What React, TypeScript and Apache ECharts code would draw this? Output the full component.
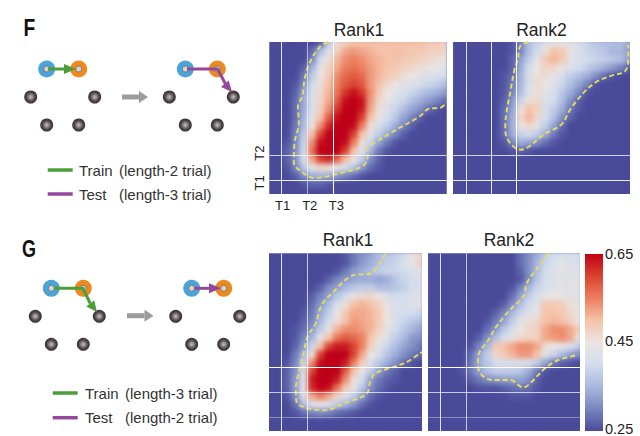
import React, { useEffect, useRef } from "react";
import * as echarts from "echarts";

// Values are percent-of-score (25 = 0.25, 65 = 0.65); rows run from top to bottom.
const fRank1 = [
  [25,25,25,25,25,25,27,38,46,48,50,50,50,50,50,50,50,50,50,49,49,48],
  [25,25,25,25,25,28,36,42,48,52,53,52,51,50,50,50,50,49,49,48,48,47],
  [25,25,25,25,25,30,40,46,51,54,55,54,52,51,50,50,49,49,48,47,46,45],
  [25,25,25,25,27,35,43,48,52,55,56,55,53,51,50,49,48,47,46,45,44,43],
  [25,25,25,25,29,38,45,49,54,57,58,57,53,51,49,48,46,45,43,42,41,40],
  [25,25,25,26,31,40,46,50,55,58,60,58,53,50,47,45,43,42,41,39,38,36],
  [25,25,25,27,33,41,47,51,56,61,64,61,54,49,45,43,41,39,37,35,34,32],
  [25,25,25,28,34,42,47,52,58,64,65,64,53,47,44,41,39,36,34,32,30,28],
  [25,25,25,28,34,42,48,54,61,65,65,63,52,46,42,39,36,33,31,28,26,25],
  [25,25,25,28,35,43,50,58,64,65,65,60,50,44,40,37,33,30,27,25,25,25],
  [25,25,25,29,36,45,54,62,65,65,64,55,46,41,38,34,30,27,25,25,25,25],
  [25,25,25,30,38,50,60,65,65,65,60,50,43,38,34,30,27,25,25,25,25,25],
  [25,25,26,30,39,54,64,65,65,64,55,46,39,33,29,26,25,25,25,25,25,25],
  [25,25,27,31,40,56,65,65,65,60,50,42,35,29,26,25,25,25,25,25,25,25],
  [25,25,27,31,41,52,60,62,57,50,45,38,31,27,25,25,25,25,25,25,25,25],
  [25,25,26,30,37,44,47,46,44,41,37,32,28,26,25,25,25,25,25,25,25,25],
  [25,25,25,27,31,34,35,34,32,30,28,26,25,25,25,25,25,25,25,25,25,25],
  [25,25,25,25,26,27,27,26,25,25,25,25,25,25,25,25,25,25,25,25,25,25],
  [25,25,25,25,25,25,25,25,25,25,25,25,25,25,25,25,25,25,25,25,25,25],
];
const fRank2 = [
  [25,25,25,25,25,25,25,26,30,36,39,42,44,44,43,41,39,37,36,36,36,34],
  [25,25,25,25,25,25,25,26,30,36,40,46,50,49,44,41,39,38,37,35,35,33],
  [25,25,25,25,25,25,25,27,33,38,43,49,51,49,44,41,40,39,38,37,36,33],
  [25,25,25,25,25,25,25,27,34,40,45,48,47,44,42,40,38,36,34,32,30,27],
  [25,25,25,25,25,25,26,28,35,41,46,46,44,41,38,36,34,31,28,26,25,25],
  [25,25,25,25,25,25,26,29,35,41,46,45,42,39,36,33,30,26,25,25,25,25],
  [25,25,25,25,25,25,26,30,36,42,46,43,41,37,34,30,26,25,25,25,25,25],
  [25,25,25,25,25,25,27,32,39,46,47,42,40,36,31,27,25,25,25,25,25,25],
  [25,25,25,25,25,25,28,33,45,50,48,41,38,34,29,26,25,25,25,25,25,25],
  [25,25,25,25,25,25,28,34,47,51,47,40,36,31,27,25,25,25,25,25,25,25],
  [25,25,25,25,25,25,28,34,45,47,43,38,33,28,25,25,25,25,25,25,25,25],
  [25,25,25,25,25,25,28,34,39,40,38,34,29,26,25,25,25,25,25,25,25,25],
  [25,25,25,25,25,25,26,30,34,33,31,28,26,25,25,25,25,25,25,25,25,25],
  [25,25,25,25,25,25,25,26,27,26,25,25,25,25,25,25,25,25,25,25,25,25],
  [25,25,25,25,25,25,25,25,25,25,25,25,25,25,25,25,25,25,25,25,25,25],
  [25,25,25,25,25,25,25,25,25,25,25,25,25,25,25,25,25,25,25,25,25,25],
  [25,25,25,25,25,25,25,25,25,25,25,25,25,25,25,25,25,25,25,25,25,25],
  [25,25,25,25,25,25,25,25,25,25,25,25,25,25,25,25,25,25,25,25,25,25],
  [25,25,25,25,25,25,25,25,25,25,25,25,25,25,25,25,25,25,25,25,25,25],
];
const gRank1 = [
  [25,25,25,25,25,25,25,25,25,26,29,31,33,36,37,38,40,43,46],
  [25,25,25,25,25,25,25,25,25,26,29,32,34,36,38,39,41,44,48],
  [25,25,25,25,25,25,25,25,26,29,32,34,36,38,39,39,40,42,44],
  [25,25,25,25,25,25,25,27,30,32,33,34,34,33,34,37,39,40,42],
  [25,25,25,25,25,25,27,31,33,35,37,38,38,36,36,37,38,40,41],
  [25,25,25,25,25,27,30,33,37,40,44,47,47,45,42,40,40,41,43],
  [25,25,25,25,25,28,32,36,41,46,50,51,50,48,44,41,41,42,44],
  [25,25,25,25,26,29,34,38,44,49,52,52,51,49,45,41,40,40,39],
  [25,25,25,25,27,30,35,40,46,50,53,52,51,49,45,41,39,37,36],
  [25,25,25,26,28,32,38,44,51,54,54,53,51,48,44,40,37,35,33],
  [25,25,25,26,30,35,43,50,56,58,57,55,50,46,42,38,35,32,31],
  [25,25,25,27,32,39,50,60,63,63,60,55,48,43,39,36,33,31,29],
  [25,25,25,29,35,46,60,65,65,65,60,52,45,41,37,34,31,29,28],
  [25,25,26,30,39,54,64,65,65,63,55,48,42,37,34,31,28,26,25],
  [25,25,27,31,42,60,65,65,65,58,50,44,38,33,29,27,25,25,25],
  [25,25,27,32,44,63,65,65,63,54,46,40,33,29,27,26,25,25,25],
  [25,25,27,32,45,62,65,64,56,49,43,37,31,28,26,25,25,25,25],
  [25,25,26,31,42,52,55,52,47,42,38,33,28,26,25,25,25,25,25],
  [25,25,25,28,36,42,44,42,38,35,32,28,26,25,25,25,25,25,25],
  [25,25,25,26,28,30,31,30,28,27,26,25,25,25,25,25,25,25,25],
  [25,25,25,25,25,25,25,25,25,25,25,25,25,25,25,25,25,25,25],
  [25,25,25,25,25,25,25,25,25,25,25,25,25,25,25,25,25,25,25],
];
const gRank2 = [
  [25,25,25,25,25,25,25,25,25,25,25,28,31,34,38,40,41,41,40],
  [25,25,25,25,25,25,25,25,25,25,25,28,31,35,39,41,43,42,41],
  [25,25,25,25,25,25,25,25,25,25,25,27,31,36,40,42,44,43,42],
  [25,25,25,25,25,25,25,25,25,25,25,26,31,37,41,42,43,43,43],
  [25,25,25,25,25,25,25,25,25,25,26,30,35,39,41,42,43,43,43],
  [25,25,25,25,25,25,25,25,25,25,28,33,38,41,44,45,44,44,43],
  [25,25,25,25,25,25,25,25,25,27,31,36,40,43,49,49,48,46,44],
  [25,25,25,25,25,25,25,25,27,30,35,39,42,44,50,50,49,47,44],
  [25,25,25,25,25,25,25,26,29,33,38,43,46,47,50,51,50,48,45],
  [25,25,25,25,25,25,25,28,32,37,41,45,47,48,52,54,54,52,48],
  [25,25,25,25,25,25,27,31,36,40,44,47,48,48,52,53,54,52,46],
  [25,25,25,25,25,26,30,35,49,50,52,54,54,52,46,45,44,42,38],
  [25,25,25,25,25,28,33,38,47,49,51,53,53,50,43,39,36,33,31],
  [25,25,25,25,25,29,34,37,40,41,41,42,41,38,33,29,27,26,25],
  [25,25,25,25,26,29,33,36,38,38,38,37,34,29,26,25,25,25,25],
  [25,25,25,25,25,27,29,31,32,33,33,33,31,27,25,25,25,25,25],
  [25,25,25,25,25,25,26,26,26,27,28,29,28,26,25,25,25,25,25],
  [25,25,25,25,25,25,25,25,25,25,26,26,26,25,25,25,25,25,25],
  [25,25,25,25,25,25,25,25,25,25,25,25,25,25,25,25,25,25,25],
  [25,25,25,25,25,25,25,25,25,25,25,25,25,25,25,25,25,25,25],
  [25,25,25,25,25,25,25,25,25,25,25,25,25,25,25,25,25,25,25],
  [25,25,25,25,25,25,25,25,25,25,25,25,25,25,25,25,25,25,25],
];

// Significance contours, in cell units of each panel (x from the left, y from the top).
const fRank1Contour = [[7.26,0],[6.22,0.63],[4.98,2.63],[4.36,4.7],[4.07,6.8],[3.53,8.04],[3.65,10.1],[3.11,12.6],[3.03,15.1],[3.94,16.2],[5.6,17],[8.71,16.4],[11.6,15.5],[12.2,14.3],[12.2,13.25],[13.07,12.6],[15.35,11.2],[18.67,9.3],[19.9,8.3],[21.16,8.25],[22,7.6]];
const fRank2Contour = [[9.38,0],[8.35,0.54],[8.06,2.2],[7.64,3.46],[7.1,6.4],[6.7,8.46],[6.5,10.5],[6.7,12],[8.35,13.46],[9.17,13.25],[11.24,11.6],[13.5,10.3],[14.55,8.46],[16,6.6],[17.64,5.1],[19.7,4.2],[21.36,3.67],[21.78,2.2],[21.78,0.33]];
const gRank1Contour = [[14.43,0],[13.6,1.45],[12.56,2.48],[10.48,2.69],[7.78,4.96],[6.53,6.41],[5.7,8.89],[4.86,10.13],[4.24,12.61],[3.74,14.47],[3.33,16.75],[3.41,18.4],[4.66,19.15],[6.94,19.44],[9.23,18.61],[12.14,17.37],[12.56,15.92],[13.18,14.89],[15.47,14.06],[17.13,13.44],[19,12.2]];
const gRank2Contour = [[15.05,0],[14.01,1.37],[12.35,3.65],[11.93,5.31],[10.06,7.18],[8.4,9.25],[7.57,10.7],[6.32,12.57],[6.24,13.82],[6.74,15.06],[7.98,15.68],[10.27,15.68],[11.93,16.6],[12.97,15.89],[14.64,14.23],[16.3,13.2],[18.8,12.57]];

// Trial-event lines in cell units: [position, opacity]
const fVertical = [[1.49,0.85],[4.69,0.55],[7.88,1]];
const fRank2Vertical = [[1.65,0.85],[4.75,0.85],[7.85,1]];
const fHorizontal = [[14.2,0.75],[17.33,0.9]];
const gVertical = [[1.58,0.85],[4.72,0.7]];
const gHorizontal = [[14.14,1],[17.25,0.7],[20.35,0.35]];

const xTickLabels = ["T1","T2","T3"];
const xTickValues = [1.62,5.0,8.3];
const yTickLabels = ["T1","T2"];
const yTickValues = [17.6,13.9];
const colorbarTicks = [0.25,0.45,0.65];
const colorStops = ["#4a4a9a","#7886c0","#a9b8de","#d3dded","#ebe5e2","#f6c3a8","#ec7f5f","#d9432f","#bf0018"];
const panelTitles = ["Rank1","Rank2","Rank1","Rank2"];

const FONT = "'Liberation Sans', Arial, sans-serif";
const panels = [
  { l: 269.5, r: 446.5, t: 42, b: 194, cells: fRank1, contour: fRank1Contour, v: fVertical, h: fHorizontal, tx: 359, ty: 21 },
  { l: 453, r: 630, t: 42, b: 194, cells: fRank2, contour: fRank2Contour, v: fRank2Vertical, h: fHorizontal, tx: 541.5, ty: 21 },
  { l: 269, r: 422, t: 253.5, b: 431, cells: gRank1, contour: gRank1Contour, v: gVertical, h: gHorizontal, tx: 348, ty: 231 },
  { l: 428, r: 580, t: 253.5, b: 431, cells: gRank2, contour: gRank2Contour, v: gVertical, h: gHorizontal, tx: 509, ty: 231 },
];

const grayNode = (x: number, y: number) => ({
  type: "circle", shape: { cx: x, cy: y, r: 6.5 },
  style: { fill: new echarts.graphic.RadialGradient(0.5, 0.5, 0.5, [
    { offset: 0, color: "#c9c5c5" }, { offset: 0.35, color: "#8a8384" }, { offset: 0.7, color: "#4a4244" }, { offset: 1, color: "#3a3436" },
  ]) },
});
const colorNode = (x: number, y: number, color: string) => [
  { type: "circle", shape: { cx: x, cy: y, r: 8.5 }, style: { fill: color } },
  { type: "circle", shape: { cx: x, cy: y, r: 3 }, style: { fill: "#d8d4d0", stroke: "#777", lineWidth: 1 } },
];
const arrow = (pts: number[][], color: string, w: number, headLen: number, headW: number) => {
  const a = pts[pts.length - 2], b = pts[pts.length - 1];
  const d = Math.hypot(b[0] - a[0], b[1] - a[1]);
  const ux = (b[0] - a[0]) / d, uy = (b[1] - a[1]) / d;
  const bx = b[0] - ux * headLen, by = b[1] - uy * headLen;
  const shaft = pts.slice(0, -1).concat([[bx, by]]);
  return [
    { type: "polyline", shape: { points: shaft }, style: { stroke: color, lineWidth: w, fill: "none", lineJoin: "round" } },
    { type: "polygon", shape: { points: [[b[0], b[1]], [bx - uy * headW, by + ux * headW], [bx + uy * headW, by - ux * headW]] }, style: { fill: color } },
  ];
};
const text = (t: string, x: number, y: number, extra: any = {}) => ({
  type: "text", x, y,
  style: { text: t, fontFamily: FONT, fontSize: 15, fill: "#333", verticalAlign: "middle", ...extra },
});
const heading = (t: string, x: number, y: number, sx: number) => ({
  type: "text", x, y, scaleX: sx,
  style: { text: t, fontFamily: FONT, fontWeight: "bold", fontSize: 24, fill: "#111", verticalAlign: "middle" },
});
const legendLine = (x: number, y: number, color: string) => ({
  type: "line", shape: { x1: x, y1: y, x2: x + 25, y2: y }, style: { stroke: color, lineWidth: 3.5 },
});
const GREEN = "#4c9f38", PURPLE = "#93489c", GRAY = "#9c9c9c";
const diagram = (ox: number, oy: number, dx: number) => [
  grayNode(ox - 16, oy + 28), grayNode(ox + 48, oy + 28), grayNode(ox, oy + 56), grayNode(ox + 32, oy + 56),
  grayNode(ox + dx - 16, oy + 28), grayNode(ox + dx + 48, oy + 28), grayNode(ox + dx, oy + 56), grayNode(ox + dx + 32, oy + 56),
  ...colorNode(ox, oy, "#4ba3d8"), ...colorNode(ox + 32, oy, "#ee8a1d"),
  ...colorNode(ox + dx, oy, "#4ba3d8"), ...colorNode(ox + dx + 32, oy, "#ee8a1d"),
];
const graphics: any[] = [
  ...diagram(46.7, 69, 138.6),
  ...arrow([[48, 69], [76, 69]], GREEN, 3, 12, 5),
  ...arrow([[187, 69], [217.5, 69], [226, 85], [232, 92]], PURPLE, 3, 11, 5),
  ...arrow([[122, 97], [148, 97]], GRAY, 5, 9, 6),
  legendLine(47.7, 170, GREEN), legendLine(47.7, 194, PURPLE),
  text("Train", 79, 170), text("(length-2 trial)", 119, 170),
  text("Test", 79, 194), text("(length-3 trial)", 119, 194),
  heading("F", 23.5, 27.5, 0.8),

  ...diagram(51.3, 288.3, 140.4),
  ...arrow([[54, 288.3], [83, 288.3], [90, 303], [97, 312]], GREEN, 3, 11, 5),
  ...arrow([[194, 288.3], [221, 288.3]], PURPLE, 3, 12, 5),
  ...arrow([[127, 315.7], [153.5, 315.7]], GRAY, 5, 9, 6),
  legendLine(52.7, 393, GREEN), legendLine(52.7, 417.7, PURPLE),
  text("Train", 85, 393), text("(length-3 trial)", 125, 393),
  text("Test", 85, 417.7), text("(length-2 trial)", 125, 417.7),
  heading("G", 22, 248.5, 0.75),
  // colour bar, the scale of the heat maps
  { type: "rect", shape: { x: 585, y: 254, width: 18, height: 177 }, style: {
    fill: new echarts.graphic.LinearGradient(0, 1, 0, 0, colorStops.map((color, i) => ({ offset: i / (colorStops.length - 1), color }))),
  } },
];

const PAD = 3;

export default function App() {
  const heatRef = useRef<HTMLDivElement>(null);
  const mainRef = useRef<HTMLDivElement>(null);
  useEffect(() => {
    const heat = echarts.init(heatRef.current!, undefined, { renderer: "svg" });
    const main = echarts.init(mainRef.current!, undefined, { renderer: "svg" });

    heat.setOption({
      animation: false,
      grid: panels.map((p) => ({ left: p.l - PAD, top: p.t - PAD, width: p.r - p.l + 2 * PAD, height: p.b - p.t + 2 * PAD, containLabel: false })),
      xAxis: panels.map((p, i) => ({ type: "category", gridIndex: i, show: false, data: p.cells[0].map((_, c) => c) })),
      yAxis: panels.map((p, i) => ({ type: "category", gridIndex: i, show: false, inverse: true, data: p.cells.map((_, r) => r) })),
      visualMap: { show: false, min: 0.25, max: 0.65, inRange: { color: colorStops } },
      series: panels.map((p, i) => ({
        type: "heatmap", xAxisIndex: i, yAxisIndex: i, progressive: 0, silent: true,
        data: p.cells.flatMap((row, r) => row.map((v, c) => [c, r, v / 100])),
        itemStyle: { borderWidth: 0 },
      })),
    });

    const tickAxis = { axisLine: { show: false }, axisTick: { show: false }, splitLine: { show: false } };
    main.setOption({
      animation: false,
      title: panels.map((p, i) => ({
        text: panelTitles[i], left: p.tx, top: p.ty, textAlign: "center", padding: 0,
        textStyle: { fontFamily: FONT, fontSize: 17.5, fontWeight: "normal", color: "#222" },
      })),
      grid: [
        ...panels.map((p) => ({ left: p.l, top: p.t, width: p.r - p.l, height: p.b - p.t })),
        { left: 585, top: 254, width: 18, height: 177 },
      ],
      xAxis: [
        ...panels.map((p, i) => ({
          type: "value", gridIndex: i, min: 0, max: p.cells[0].length, ...tickAxis,
          axisLabel: i === 0 ? {
            show: true, customValues: xTickValues, margin: 5, showMinLabel: true, showMaxLabel: true,
            formatter: (v: number) => xTickLabels[xTickValues.indexOf(v)] ?? "",
            fontFamily: FONT, fontSize: 13, color: "#222",
          } : { show: false },
        })),
        { type: "value", gridIndex: 4, show: false },
      ],
      yAxis: [
        ...panels.map((p, i) => ({
          type: "value", gridIndex: i, min: 0, max: p.cells.length, inverse: true, ...tickAxis,
          axisLabel: i === 0 ? {
            show: true, customValues: yTickValues, margin: 4, rotate: 90,
            formatter: (v: number) => yTickLabels[yTickValues.indexOf(v)] ?? "",
            fontFamily: FONT, fontSize: 13, color: "#222",
          } : { show: false },
        })),
        {
          type: "value", gridIndex: 4, position: "right", min: 0.25, max: 0.65, ...tickAxis,
          axisLabel: {
            show: true, customValues: colorbarTicks, margin: 2,
            formatter: (v: number) => v.toFixed(2),
            fontFamily: FONT, fontSize: 14.5, color: "#222",
          },
        },
      ],
      series: panels.map((p, i) => ({
        type: "line", xAxisIndex: i, yAxisIndex: i, data: p.contour, smooth: 0.35, showSymbol: false, silent: true,
        lineStyle: { color: "#e8dc5c", width: 1.9, type: [5, 3] },
        markLine: {
          silent: true, symbol: "none", animation: false, label: { show: false },
          data: [
            ...p.v.map(([x, o]) => ({ xAxis: x, lineStyle: { color: "#fff", width: 1, type: "solid", opacity: o } })),
            ...p.h.map(([y, o]) => ({ yAxis: y, lineStyle: { color: "#fff", width: 1, type: "solid", opacity: o } })),
          ],
        },
      })),
      graphic: graphics,
    });

    return () => { heat.dispose(); main.dispose(); };
  }, []);

  const clip = panels.map((p) => `M${p.l} ${p.t}H${p.r}V${p.b}H${p.l}Z`).join(" ");
  const full: React.CSSProperties = { position: "absolute", left: 0, top: 0, width: 640, height: 436 };
  return (
    <div style={{ position: "fixed", left: 0, top: 0, width: 640, height: 436, background: "#fff", overflow: "hidden" }}>
      <div style={{ ...full, background: "#4a4a9a", clipPath: `path('${clip}')` }}>
        <div ref={heatRef} style={{ ...full, filter: "blur(2.5px)" }} />
      </div>
      <div ref={mainRef} style={full} />
    </div>
  );
}
